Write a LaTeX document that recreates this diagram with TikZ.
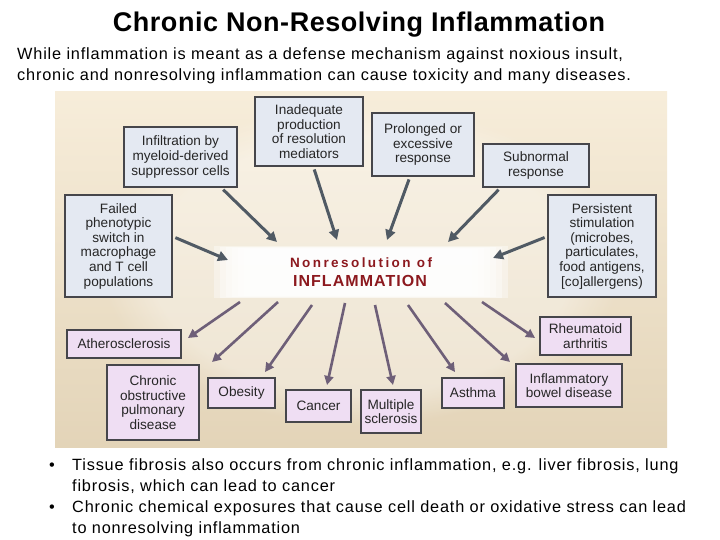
\documentclass[tikz,border=0pt]{standalone}
\usepackage{fontspec}
\setmainfont{Liberation Sans}
\usetikzlibrary{arrows.meta,fadings}
\definecolor{bgtop}{RGB}{247,237,218}
\definecolor{bgbot}{RGB}{227,212,184}
\definecolor{bluebox}{RGB}{228,233,242}
\definecolor{pinkbox}{RGB}{239,222,243}
\definecolor{boxline}{RGB}{70,70,75}
\definecolor{inarrow}{RGB}{80,90,100}
\definecolor{outarrow}{RGB}{110,95,120}
\definecolor{nonred}{RGB}{140,25,30}
\begin{document}
\begin{tikzpicture}[x=1pt,y=-1pt,
  causebox/.style={draw=boxline, line width=1.2pt, fill=bluebox, align=center,
    font=\fontsize{13.6}{14.6}\selectfont, inner sep=0pt, text=black!85},
  diseasebox/.style={causebox, fill=pinkbox},
  inarr/.style={draw=inarrow, line width=3pt, -{Triangle[length=10pt,width=10pt]}, shorten <=3pt},
  outarr/.style={draw=outarrow, line width=2.6pt, -{Triangle[length=9pt,width=9pt]}},
  plaintext/.style={inner sep=0pt, anchor=base west, font=\fontsize{16.3}{20}\selectfont\addfontfeature{LetterSpace=5}}]
\useasboundingbox (0,0) rectangle (720,540);
\fill[white] (0,0) rectangle (720,540);

% title and intro
\node[inner sep=0pt, anchor=base, font=\bfseries\fontsize{27}{30}\selectfont\addfontfeature{LetterSpace=2}] (title) at (359,32) {Chronic Non-Resolving Inflammation};
\node[plaintext] (intro1) at (17,59.5) {While inflammation is meant as a defense mechanism against noxious insult,};
\node[plaintext] (intro2) at (17,80.5) {chronic and nonresolving inflammation can cause toxicity and many diseases.};

% panel
\shade[top color=bgtop, bottom color=bgbot] (55,92) rectangle (667,447);
\fill[white, opacity=0.35, path fading=circle with fuzzy edge 20 percent] (361,265) ellipse (260pt and 160pt);
\foreach \i in {0,...,6}{
  \fill[white, opacity=0.38] (214+6*\i,246+0.5*\i) rectangle (508-6*\i,298-0.5*\i);
}
\node[inner sep=0pt, font=\bfseries\fontsize{13.5}{15}\selectfont\addfontfeature{LetterSpace=18}, text=nonred] (nonres1) at (361,263) {Nonresolution of};
\node[inner sep=0pt, font=\bfseries\fontsize{16}{18}\selectfont\addfontfeature{LetterSpace=6.5}, text=nonred] (nonres2) at (360,280.5) {INFLAMMATION};

% cause boxes
\node[causebox, minimum width=113pt, minimum height=60pt] (inf) at (180.5,157) {Infiltration by\\myeloid-derived\\suppressor cells};
\node[causebox, minimum width=108pt, minimum height=69pt] (inad) at (309,131.5) {Inadequate\\production\\of resolution\\mediators};
\node[causebox, minimum width=102pt, minimum height=63pt] (prol) at (423,144.5) {Prolonged or\\excessive\\response};
\node[causebox, minimum width=106pt, minimum height=43pt] (subn) at (536,165.5) {Subnormal\\response};
\node[causebox, minimum width=107pt, minimum height=102pt] (fail) at (118.5,246) {Failed\\phenotypic\\switch in\\macrophage\\and T cell\\populations};
\node[causebox, minimum width=108pt, minimum height=102pt] (pers) at (602,246) {Persistent\\stimulation\\(microbes,\\particulates,\\food antigens,\\{[co]}allergens)};

% disease boxes
\node[diseasebox, minimum width=114pt, minimum height=28pt] (ath) at (124,344) {Atherosclerosis};
\node[diseasebox, minimum width=91pt, minimum height=38pt] (ra) at (585.5,336) {Rheumatoid\\arthritis};
\node[diseasebox, minimum width=92pt, minimum height=75pt] (copd) at (153,402.5) {Chronic\\obstructive\\pulmonary\\disease};
\node[diseasebox, minimum width=67pt, minimum height=30pt] (obes) at (241.5,393) {Obesity};
\node[diseasebox, minimum width=65pt, minimum height=32pt] (canc) at (318.5,406) {Cancer};
\node[diseasebox, minimum width=60pt, minimum height=43pt] (ms) at (391,411.5) {Multiple\\sclerosis};
\node[diseasebox, minimum width=62pt, minimum height=30pt] (asth) at (473,393) {Asthma};
\node[diseasebox, minimum width=106pt, minimum height=43pt] (ibd) at (569,385.5) {Inflammatory\\bowel disease};

% incoming arrows
\coordinate (t1) at (277,242);
\coordinate (t2) at (337,240);
\coordinate (t3) at (387,240);
\coordinate (t4) at (448,242);
\coordinate (t5) at (228,260);
\coordinate (t6) at (493,258);
\draw[inarr] (inf.-37) -- (t1);
\draw[inarr] (inad.-83) -- (t2);
\draw[inarr] (prol.-112) -- (t3);
\draw[inarr] (subn.-148) -- (t4);
\draw[inarr] (fail.10) -- (t5);
\draw[inarr] (pers.170) -- (t6);

% outgoing arrows
\coordinate (s1) at (240,302); \coordinate (e1) at (188,338);
\coordinate (s2) at (278,302); \coordinate (e2) at (212,362);
\coordinate (s3) at (312,305); \coordinate (e3) at (265,372);
\coordinate (s4) at (345,303); \coordinate (e4) at (327,385);
\coordinate (s5) at (375,305); \coordinate (e5) at (393,385);
\coordinate (s6) at (408,305); \coordinate (e6) at (455,372);
\coordinate (s7) at (445,303); \coordinate (e7) at (510,362);
\coordinate (s8) at (482,302); \coordinate (e8) at (535,338);
\foreach \k in {1,...,8}{ \draw[outarr] (s\k) -- (e\k); }

% bullets
\node[inner sep=0pt, anchor=base, font=\fontsize{16.3}{20}\selectfont] (b1) at (52,470) {•};
\node[plaintext] (bt1a) at (72,470) {Tissue fibrosis also occurs from chronic inflammation, e.g. liver fibrosis, lung};
\node[plaintext] (bt1b) at (72,491) {fibrosis, which can lead to cancer};
\node[inner sep=0pt, anchor=base, font=\fontsize{16.3}{20}\selectfont] (b2) at (52,512) {•};
\node[plaintext] (bt2a) at (72,512) {Chronic chemical exposures that cause cell death or oxidative stress can lead};
\node[plaintext] (bt2b) at (72,533) {to nonresolving inflammation};
\end{tikzpicture}
\end{document}
